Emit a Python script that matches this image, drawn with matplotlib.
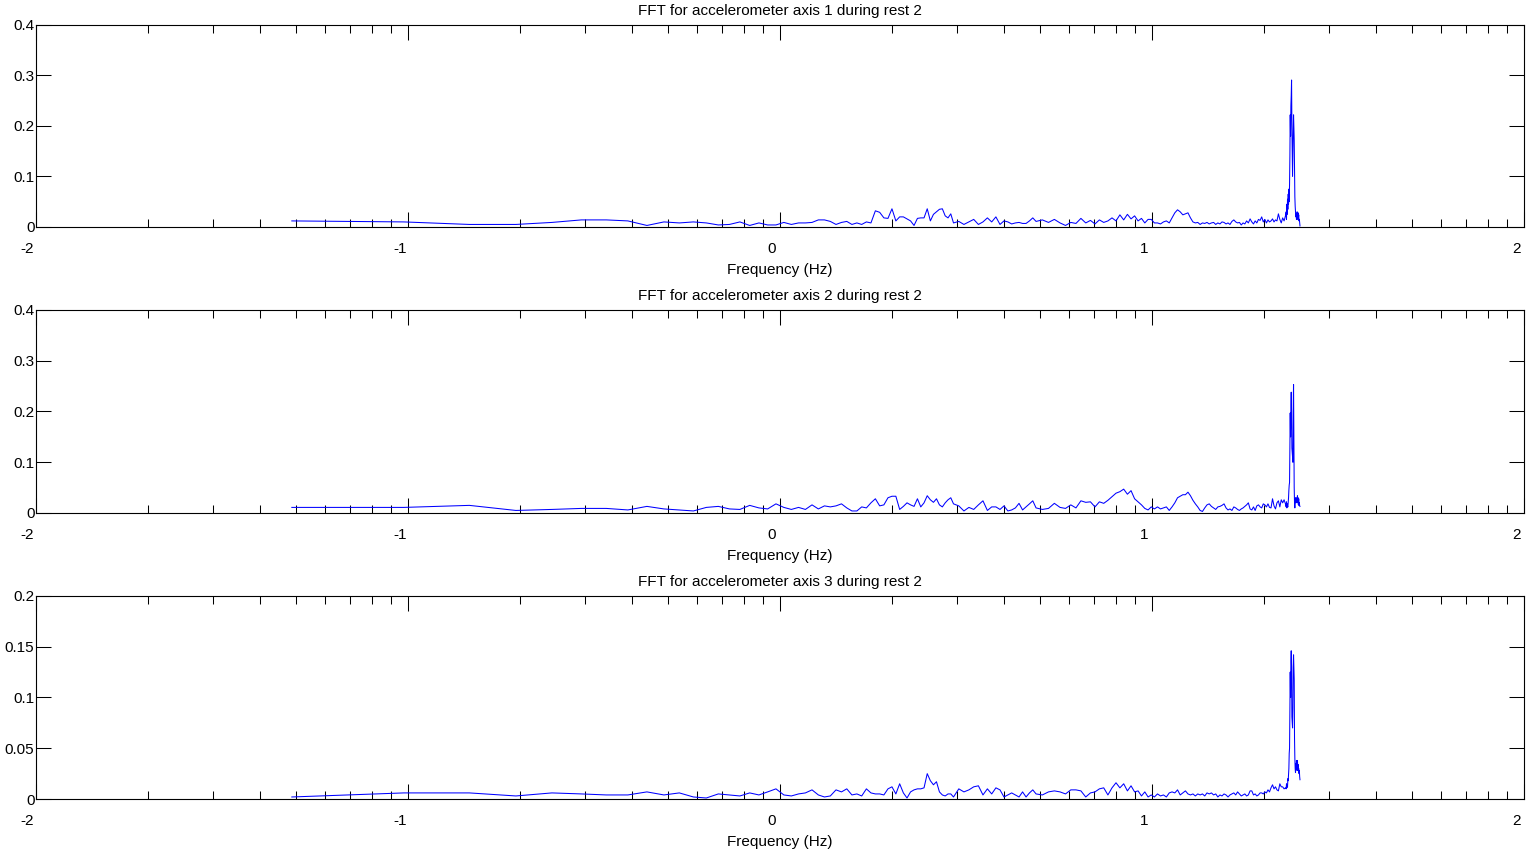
import numpy as np
import matplotlib
matplotlib.use('Agg')
import matplotlib.pyplot as plt
import matplotlib.transforms as mtransforms
from matplotlib.ticker import FixedLocator, LogLocator, NullFormatter

# FFT settings of the recording
fs = 50        # sampling rate (Hz)
nfft = 1024    # fft length

# FFT bin numbers that are plotted (low bins all, dense part thinned)
bins = [1, 2, 3, 4, 5, 6, 7, 8, 9, 10, 11, 12, 13, 14, 15, 16, 17, 18, 19, 20,
        21, 22, 23, 24, 25, 26, 27, 28, 29, 30, 31, 32, 33, 34, 35, 36, 37, 38, 39, 40,
        41, 42, 43, 44, 45, 46, 47, 48, 49, 50, 51, 52, 53, 54, 55, 56, 57, 58, 59, 60,
        62, 64, 66, 68, 70, 72, 74, 76, 78, 80, 82, 84, 86, 88, 90, 92, 94, 96, 98, 100,
        104, 108, 112, 116, 120, 124, 128, 132, 136, 140, 144, 148, 152, 156, 160, 164,
        168, 172, 176, 180, 184, 188, 192, 196,
        200, 204, 208, 212, 216, 220, 224, 228, 232, 236, 240, 244, 248, 252, 256, 260,
        264, 268, 272, 276, 280, 284, 288, 292, 296, 300, 304, 308, 312, 316, 320, 324,
        328, 332, 336, 340, 344, 348, 352, 356, 360, 364, 368, 372, 376, 380, 384, 388,
        392, 396, 400, 404, 408, 412, 416, 420, 424, 428, 432, 436, 440, 444, 448, 452,
        456, 460, 464, 468,
        470, 471, 472, 473, 474, 475, 476, 477, 478, 479, 480, 481, 482, 483, 484, 485,
        486, 487, 488, 489, 490, 491, 492, 493, 494, 495, 496, 497, 498, 499, 500, 501,
        502, 503, 504, 505, 506, 507, 508, 509, 510, 511, 512]

# amplitude spectrum, accelerometer axis 1
axis1 = [0.012, 0.010, 0.005, 0.005, 0.009, 0.014, 0.014, 0.012, 0.003, 0.010,
         0.008, 0.010, 0.008, 0.004, 0.005, 0.010, 0.003, 0.008, 0.004, 0.004,
         0.009, 0.005, 0.008, 0.008, 0.009, 0.014, 0.014, 0.011, 0.005, 0.009,
         0.011, 0.005, 0.008, 0.005, 0.010, 0.008, 0.032, 0.029, 0.018, 0.017,
         0.036, 0.012, 0.020, 0.020, 0.016, 0.012, 0.003, 0.017, 0.018, 0.018,
         0.036, 0.012, 0.025, 0.030, 0.035, 0.036, 0.022, 0.018, 0.026, 0.008,
         0.011, 0.005, 0.010, 0.015, 0.005, 0.010, 0.018, 0.010, 0.020, 0.005,
         0.012, 0.010, 0.006, 0.008, 0.009, 0.007, 0.007, 0.012, 0.018, 0.011,
         0.014, 0.009, 0.015, 0.008, 0.003, 0.009, 0.007, 0.017, 0.008, 0.013,
         0.006, 0.014, 0.009, 0.012, 0.018, 0.012, 0.024, 0.014, 0.025, 0.016,
         0.022, 0.012, 0.017, 0.008,
         0.015, 0.015, 0.008, 0.008, 0.006, 0.010, 0.012, 0.008, 0.018, 0.028,
         0.034, 0.030, 0.024, 0.026, 0.028, 0.018, 0.010, 0.008, 0.009, 0.005,
         0.008, 0.007, 0.009, 0.006, 0.008, 0.009, 0.005, 0.008, 0.006, 0.010,
         0.009, 0.006, 0.008, 0.005, 0.011, 0.014, 0.010, 0.008, 0.009, 0.004,
         0.008, 0.006, 0.012, 0.008, 0.016, 0.010, 0.006, 0.012, 0.008, 0.015,
         0.013, 0.020, 0.010, 0.015, 0.008, 0.014, 0.010, 0.012, 0.016, 0.010,
         0.014, 0.012, 0.026, 0.015, 0.008, 0.018, 0.012, 0.022,
         0.030, 0.015, 0.045, 0.025, 0.055, 0.035, 0.065, 0.045, 0.075, 0.050,
         0.085, 0.140, 0.222, 0.180, 0.240, 0.260, 0.291, 0.200, 0.146, 0.100,
         0.150, 0.190, 0.222, 0.200, 0.173, 0.110, 0.060, 0.041, 0.030, 0.020,
         0.026, 0.015, 0.022, 0.030, 0.024, 0.015, 0.028, 0.018, 0.024, 0.012,
         0.015, 0.008, 0.002]

# amplitude spectrum, accelerometer axis 2
axis2 = [0.011, 0.011, 0.015, 0.005, 0.007, 0.009, 0.009, 0.006, 0.013, 0.008,
         0.006, 0.004, 0.011, 0.013, 0.008, 0.007, 0.015, 0.010, 0.008, 0.018,
         0.011, 0.007, 0.011, 0.007, 0.016, 0.008, 0.014, 0.012, 0.014, 0.018,
         0.010, 0.004, 0.004, 0.012, 0.010, 0.020, 0.028, 0.014, 0.016, 0.030,
         0.033, 0.033, 0.007, 0.013, 0.020, 0.016, 0.013, 0.028, 0.012, 0.020,
         0.034, 0.026, 0.021, 0.028, 0.016, 0.012, 0.020, 0.026, 0.030, 0.018,
         0.014, 0.004, 0.011, 0.007, 0.016, 0.024, 0.005, 0.012, 0.012, 0.007,
         0.014, 0.004, 0.006, 0.010, 0.019, 0.006, 0.012, 0.018, 0.024, 0.010,
         0.007, 0.009, 0.019, 0.011, 0.009, 0.016, 0.010, 0.024, 0.021, 0.022,
         0.012, 0.022, 0.019, 0.025, 0.032, 0.039, 0.042, 0.047, 0.037, 0.044,
         0.028, 0.022, 0.016, 0.009,
         0.006, 0.012, 0.008, 0.012, 0.008, 0.010, 0.012, 0.005, 0.012, 0.020,
         0.030, 0.033, 0.036, 0.036, 0.041, 0.034, 0.025, 0.018, 0.012, 0.005,
         0.003, 0.010, 0.016, 0.018, 0.013, 0.010, 0.007, 0.012, 0.013, 0.015,
         0.018, 0.010, 0.006, 0.008, 0.005, 0.012, 0.010, 0.007, 0.005, 0.008,
         0.010, 0.013, 0.016, 0.020, 0.008, 0.006, 0.012, 0.005, 0.014, 0.016,
         0.012, 0.010, 0.018, 0.016, 0.012, 0.018, 0.011, 0.010, 0.028, 0.014,
         0.008, 0.020, 0.024, 0.012, 0.026, 0.020, 0.026, 0.018,
         0.012, 0.022, 0.010, 0.018, 0.014, 0.012, 0.020, 0.030, 0.045, 0.055,
         0.060, 0.120, 0.197, 0.150, 0.210, 0.238, 0.200, 0.128, 0.120, 0.110,
         0.100, 0.200, 0.253, 0.150, 0.050, 0.020, 0.010, 0.025, 0.030, 0.020,
         0.028, 0.024, 0.030, 0.020, 0.034, 0.022, 0.030, 0.016, 0.028, 0.015,
         0.020, 0.014, 0.013]

# amplitude spectrum, accelerometer axis 3
axis3 = [0.002, 0.006, 0.006, 0.003, 0.006, 0.005, 0.004, 0.004, 0.007, 0.004,
         0.006, 0.002, 0.001, 0.005, 0.004, 0.003, 0.006, 0.004, 0.007, 0.010,
         0.004, 0.003, 0.005, 0.006, 0.009, 0.004, 0.002, 0.003, 0.009, 0.007,
         0.010, 0.004, 0.005, 0.003, 0.010, 0.006, 0.005, 0.005, 0.004, 0.010,
         0.012, 0.005, 0.015, 0.006, 0.001, 0.007, 0.009, 0.010, 0.010, 0.011,
         0.025, 0.018, 0.014, 0.017, 0.007, 0.004, 0.003, 0.005, 0.005, 0.002,
         0.010, 0.007, 0.009, 0.012, 0.013, 0.004, 0.010, 0.005, 0.011, 0.009,
         0.002, 0.004, 0.006, 0.004, 0.002, 0.007, 0.002, 0.006, 0.009, 0.005,
         0.004, 0.007, 0.008, 0.007, 0.005, 0.009, 0.009, 0.008, 0.002, 0.006,
         0.007, 0.010, 0.011, 0.004, 0.011, 0.016, 0.011, 0.015, 0.008, 0.013,
         0.007, 0.008, 0.003, 0.007,
         0.002, 0.004, 0.002, 0.005, 0.003, 0.004, 0.002, 0.006, 0.007, 0.006,
         0.009, 0.004, 0.006, 0.008, 0.005, 0.004, 0.005, 0.003, 0.005, 0.004,
         0.005, 0.003, 0.006, 0.005, 0.006, 0.004, 0.005, 0.002, 0.004, 0.003,
         0.005, 0.004, 0.002, 0.004, 0.005, 0.006, 0.004, 0.007, 0.005, 0.003,
         0.004, 0.005, 0.003, 0.004, 0.008, 0.008, 0.004, 0.005, 0.003, 0.004,
         0.006, 0.006, 0.005, 0.007, 0.006, 0.009, 0.007, 0.011, 0.014, 0.010,
         0.012, 0.009, 0.008, 0.015, 0.012, 0.012, 0.010, 0.011,
         0.010, 0.015, 0.011, 0.014, 0.012, 0.020, 0.018, 0.025, 0.030, 0.045,
         0.050, 0.090, 0.125, 0.100, 0.135, 0.146, 0.130, 0.081, 0.075, 0.070,
         0.090, 0.130, 0.142, 0.130, 0.118, 0.060, 0.040, 0.030, 0.026, 0.035,
         0.030, 0.038, 0.033, 0.028, 0.038, 0.030, 0.034, 0.028, 0.030, 0.025,
         0.028, 0.022, 0.019]

titles = ['FFT for accelerometer axis 1 during rest 2',
          'FFT for accelerometer axis 2 during rest 2',
          'FFT for accelerometer axis 3 during rest 2']
ymax = [0.4, 0.4, 0.2]
yticks = [[0, 0.1, 0.2, 0.3, 0.4],
          [0, 0.1, 0.2, 0.3, 0.4],
          [0, 0.05, 0.1, 0.15, 0.2]]
ytick_labels = [['0', '0.1', '0.2', '0.3', '0.4'],
                ['0', '0.1', '0.2', '0.3', '0.4'],
                ['0', '0.05', '0.1', '0.15', '0.2']]
xticks = [0.01, 0.1, 1, 10, 100]
xtick_labels = ['-2', '-1', '0', '1', '2']

plt.rcParams['font.family'] = ['Liberation Sans', 'DejaVu Sans']
plt.rcParams['font.size'] = 11

freq = np.array(bins) * fs / nfft

fig = plt.figure(figsize=(15.26, 8.52), dpi=100)
# axes boxes in figure fractions (left, bottom, width, height)
boxes = [[0.0233, 0.7336, 0.9754, 0.2371],
         [0.0233, 0.3979, 0.9754, 0.2383],
         [0.0233, 0.0622, 0.9754, 0.2383]]

# the exponent labels sit a little left of their ticks
shift = mtransforms.ScaledTranslation(-8.0 / 100, 0, fig.dpi_scale_trans)

for i, amp in enumerate([axis1, axis2, axis3]):
    ax = fig.add_axes(boxes[i])
    ax.plot(freq, amp, color='#0000FF', linewidth=0.75)
    ax.set_xscale('log')
    ax.set_xlim(0.01, 100)
    ax.set_ylim(0, ymax[i])

    ax.xaxis.set_major_locator(FixedLocator(xticks))
    ax.set_xticklabels(xtick_labels)
    ax.xaxis.set_minor_locator(LogLocator(base=10, subs=np.arange(2, 10), numticks=20))
    ax.xaxis.set_minor_formatter(NullFormatter())
    ax.set_yticks(yticks[i])
    ax.set_yticklabels(ytick_labels[i])

    ax.tick_params(which='both', direction='in', top=True, right=True, width=0.75)
    ax.tick_params(which='major', length=10.5)
    ax.tick_params(which='minor', length=5.8)
    ax.tick_params(axis='x', pad=10.5)
    ax.tick_params(axis='y', pad=0.8)
    for sp in ax.spines.values():
        sp.set_linewidth(0.8)

    # shift the x labels after tick_params, which resets their transform
    for tick in ax.xaxis.get_major_ticks():
        tick.label1.set_transform(tick.label1.get_transform() + shift)

    ax.set_title(titles[i], pad=7, fontsize=11)
    ax.set_xlabel('Frequency (Hz)', labelpad=5.5)

fig.savefig('out.png', dpi=100)
